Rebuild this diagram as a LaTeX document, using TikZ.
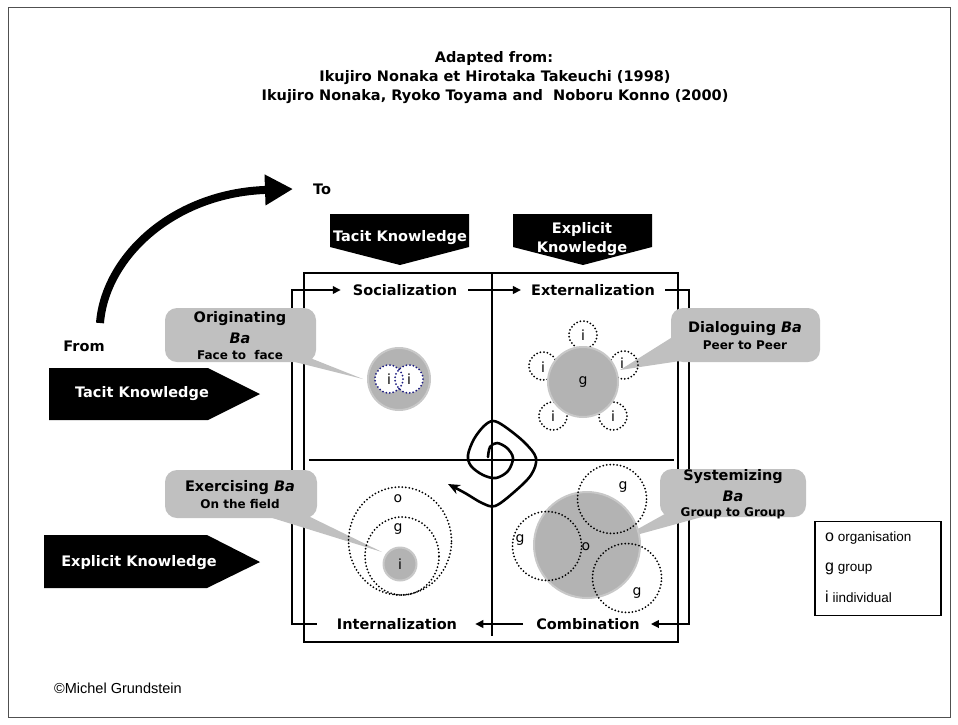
\documentclass[tikz,border=0pt]{standalone}
\usepackage{fontspec}
\setmainfont{DejaVu Sans}
\newfontfamily\legendfont{Liberation Sans}
\usetikzlibrary{arrows.meta,shapes.geometric}
\definecolor{bubble}{HTML}{C0C0C0}
\definecolor{disc}{HTML}{B3B3B3}
\definecolor{discrim}{HTML}{C8C8C8}
\definecolor{navydot}{HTML}{1A1A80}
\definecolor{framegray}{HTML}{505050}

\begin{document}
\begin{tikzpicture}[x=1pt,y=-1pt,
  big/.style={font=\fontsize{14.5}{18}\selectfont\bfseries, inner sep=0pt},
  small/.style={font=\fontsize{12}{14}\selectfont\bfseries, inner sep=0pt},
  wlabel/.style={big, text=white, align=center},
  callout/.style={fill=bubble, rounded corners=12pt, inner sep=0pt},
  cyc/.style={line width=2.6pt, -{Triangle[length=8pt,width=7.5pt]}},
  dots/.style={line width=2pt, dash pattern=on 0pt off 3.5pt, line cap=round},
  disk/.style={circle, fill=disc, draw=discrim, line width=2pt, inner sep=0pt},
  ring/.style={circle, dots, inner sep=0pt},
  oval/.style={ellipse, dots, inner sep=0pt},
  letter/.style={font=\fontsize{14}{14}\selectfont, inner sep=0pt},
  legtext/.style={font=\legendfont\fontsize{13.5}{15}\selectfont, inner sep=0pt, anchor=west},
]
\useasboundingbox (0,0) rectangle (958,724);
\draw[framegray, line width=1pt] (8,7) rectangle (950,717);

% heading
\node[big] (t1) at (494,58) {Adapted from:};
\node[big] (t2) at (495,77.5) {Ikujiro Nonaka et Hirotaka Takeuchi (1998)};
\node[big] (t3) at (495,97) {Ikujiro Nonaka, Ryoko Toyama and\ \ Noboru Konno (2000)};

% from / to sweep
\node[big] (from) at (84,346) {From};
\node[big] (to) at (322,189) {To};
\coordinate (sweepA) at (100,323);
\coordinate (sweepB) at (293,189);
\draw[line width=8pt, -{Triangle[length=28pt,width=29pt]}]
  (sweepA) .. controls (105,258) and (172,193) .. (sweepB);

% column heads
\fill (330,214) -- (469,214) -- (469,247) -- (400,265) -- (330,247) -- cycle;
\node[wlabel] (colT) at (400,238) {Tacit Knowledge};
\fill (513,214) -- (652,214) -- (652,247) -- (583,265) -- (513,247) -- cycle;
\node[wlabel, font=\fontsize{14.5}{19}\selectfont\bfseries] (colE) at (582,239) {Explicit\\Knowledge};

% row heads
\fill (49,368) -- (208,368) -- (260,394) -- (208,420) -- (49,420) -- cycle;
\node[wlabel] (rowT) at (142,394) {Tacit Knowledge};
\fill (44,535) -- (207,535) -- (260,562) -- (207,588) -- (44,588) -- cycle;
\node[wlabel] (rowE) at (139,563) {Explicit Knowledge};

% the matrix
\node[draw, line width=2pt, minimum width=374, minimum height=369, inner sep=0pt] (frame) at (491,457.5) {};
\coordinate (vTop) at (492,274);
\coordinate (vBot) at (492,636);
\coordinate (hL) at (309,460);
\coordinate (hR) at (674,460);
\draw[line width=2pt] (vTop) -- (vBot);
\draw[line width=2pt] (hL) -- (hR);

% conversion modes
\node[big] (soc) at (405,290) {Socialization};
\node[big] (ext) at (593,290) {Externalization};
\node[big] (intl) at (397,624) {Internalization};
\node[big] (comb) at (588,624) {Combination};
\coordinate (cTL) at (292,290);
\coordinate (cBL) at (292,624);
\coordinate (cTR) at (689,290);
\coordinate (cBR) at (689,624);
\draw[cyc] ([xshift=11pt]soc.east) -- ([xshift=-10pt]ext.west);
\draw[cyc] ([xshift=10pt]ext.east) -- (cTR) -- (cBR) -- ([xshift=11pt]comb.east);
\draw[cyc] ([xshift=-13pt]comb.west) -- ([xshift=18pt]intl.east);
\draw[cyc] ([xshift=-20pt]intl.west) -- (cBL) -- (cTL) -- ([xshift=-12pt]soc.west);

% spiral
\draw[line width=2.6pt, line cap=round, line join=round, -{Stealth[length=12pt,width=10pt]}]
  plot[smooth, tension=0.55] coordinates {
    (488,457) (490,447) (497,443) (507,448) (513,458) (508,471) (496,478)
    (483,475) (471,466) (468,455) (474,439) (484,426) (493,421) (504,426)
    (524,442) (536,458) (531,475) (513,493) (495,506) (482,503) (465,493) (448,484)};

% originating ba
\fill[bubble] (255,352) -- (295,352) -- (363,379) -- cycle;
\node[callout, minimum width=151, minimum height=54] (bOrig) at (240.5,335) {};
\node[big] (bOrig1) at (240,318.5) {Originating};
\node[big] (bOrig2) at (240,338) {\itshape Ba};
\node[small] (bOrig3) at (240,355.5) {Face to\ \ face};
\node[disk, minimum size=62] (oDisk) at (399,379) {};
\fill[white] (389,379) circle (14);
\fill[white] (409,379) circle (14);
\node[ring, draw=navydot, minimum size=28] (oI1) at (389,379) {};
\node[ring, draw=navydot, minimum size=28] (oI2) at (409,379) {};
\node[letter] (oL1) at (389,379) {i};
\node[letter] (oL2) at (409,379) {i};

% dialoguing ba
\fill[bubble] (690,326) -- (700,358) -- (620,370) -- cycle;
\node[callout, minimum width=149, minimum height=54] (bDial) at (745.5,335) {};
\node[big] (bDial1) at (745,329) {Dialoguing \itshape Ba};
\node[small] (bDial2) at (745,345) {Peer to Peer};
\node[ring, draw, minimum size=28] (dI1) at (583,335) {};
\node[ring, draw, minimum size=28] (dI2) at (543,366) {};
\node[ring, draw, minimum size=28] (dI3) at (624,365) {};
\node[ring, draw, minimum size=28] (dI4) at (553,416) {};
\node[ring, draw, minimum size=28] (dI5) at (613,416) {};
\node[letter] (dL1) at (dI1) {i};
\node[letter] (dL2) at (543,367) {i};
\node[letter] (dL3) at (622,363) {i};
\node[letter] (dL4) at (553,416) {i};
\node[letter] (dL5) at (613,416) {i};
\node[disk, minimum size=70] (dG) at (583,382) {};
\node[letter] (dGl) at (dG) {g};

% exercising ba
\fill[bubble] (253,512) -- (300,512) -- (382,552) -- cycle;
\node[callout, minimum width=152, minimum height=48] (bExer) at (241,494) {};
\node[big] (bExer1) at (240,488) {Exercising \itshape Ba};
\node[small] (bExer2) at (240,504) {On the field};
\node[oval, draw, minimum width=103, minimum height=108] (eO) at (400,541) {};
\node[oval, draw, minimum width=74, minimum height=78] (eG) at (402,556) {};
\node[disk, minimum size=33] (eI) at (400,564) {};
\node[letter] (eOl) at (398,499) {o};
\node[letter] (eGl) at (398,529) {g};
\node[letter] (eIl) at (eI) {i};

% systemizing ba
\fill[bubble] (672,510) -- (720,512) -- (618,540) -- cycle;
\node[callout, minimum width=146, minimum height=48] (bSys) at (733,493) {};
\node[big] (bSys1) at (733,477) {Systemizing};
\node[big] (bSys2) at (733,496) {\itshape Ba};
\node[small] (bSys3) at (733,513) {Group to Group};
\node[disk, minimum size=106] (sO) at (587,545) {};
\node[ring, draw, minimum size=69] (sG1) at (612,499) {};
\node[ring, draw, minimum size=69] (sG2) at (547,546) {};
\node[ring, draw, minimum size=69] (sG3) at (627,578) {};
\node[letter] (sOl) at (586,547) {o};
\node[letter] (sG1l) at (623,487) {g};
\node[letter] (sG2l) at (520,540) {g};
\node[letter] (sG3l) at (637,593) {g};

% key
\node[draw, line width=1.2pt, minimum width=126, minimum height=94, inner sep=0pt] (key) at (878,568.5) {};
\node[legtext] (kO) at (825,538) {{\fontsize{16}{16}\selectfont o} organisation};
\node[legtext] (kG) at (825,569) {{\fontsize{16}{16}\selectfont g} group};
\node[legtext] (kI) at (825,597) {{\fontsize{16}{16}\selectfont i} iindividual};

\node[legtext, font=\legendfont\fontsize{14.5}{16}\selectfont] (copy) at (54,688) {©Michel Grundstein};
\end{tikzpicture}
\end{document}
